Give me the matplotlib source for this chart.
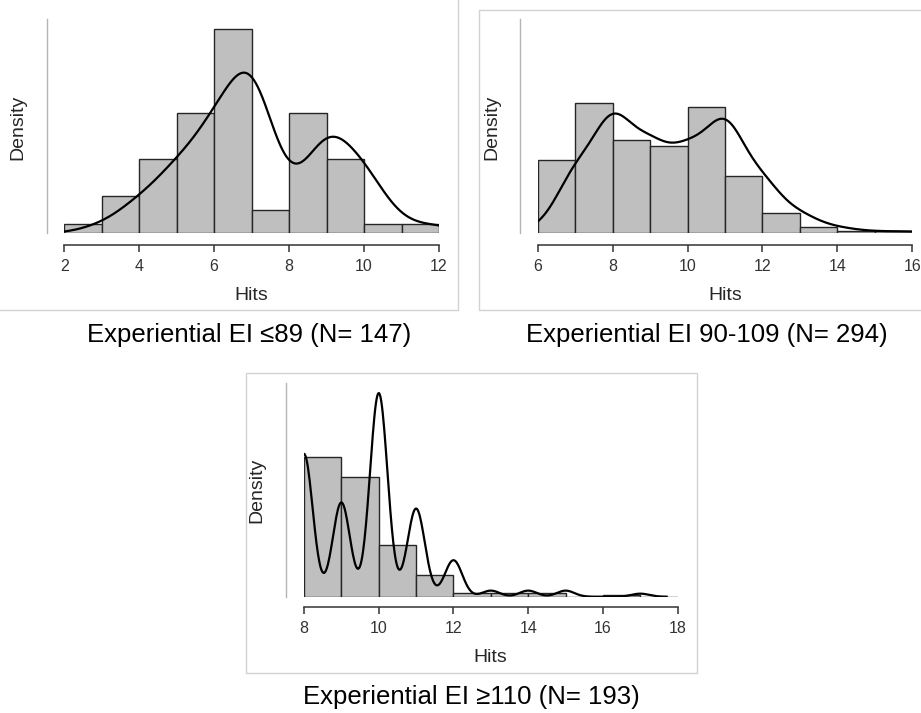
import numpy as np
import pandas as pd
import matplotlib
matplotlib.use("Agg")
import matplotlib.pyplot as plt
from matplotlib.lines import Line2D
from matplotlib.patches import Rectangle

plt.rcParams['font.family'] = ['Liberation Sans', 'DejaVu Sans']

# Hits value counts (N = 147, 294, 193)
hits_low = [3, 4, 5, 6, 7, 8, 9, 10, 11, 12]
counts_low = [2, 8, 16, 26, 44, 5, 26, 16, 2, 2]

hits_mid = [6, 7, 8, 9, 10, 11, 12, 13, 14, 15, 16]
counts_mid = [2, 34, 64, 46, 43, 62, 28, 10, 3, 1, 1]

hits_high = [8, 9, 10, 11, 12, 13, 14, 15, 17]
counts_high = [47, 31, 67, 29, 12, 2, 2, 2, 1]

captions = ["Experiential EI \u226489 (N= 147)",
            "Experiential EI 90-109 (N= 294)",
            "Experiential EI \u2265110 (N= 193)"]

W, H = 921, 713


def fx(px):
    return px / W


def fy(py):
    return 1 - py / H


def nrd0(x):
    # same rule of thumb as R's density() default
    iqr = np.percentile(x, 75) - np.percentile(x, 25)
    lo = min(np.std(x, ddof=1), iqr / 1.34)
    return 0.9 * lo * len(x) ** -0.2


def draw_panel(fig, hits, counts, lo, hi, ymax, box, left_out, bottom_out):
    left, right, top, bottom = box
    ax = fig.add_axes([fx(left), fy(bottom), fx(right - left), (bottom - top) / H])
    values = np.repeat(hits, counts).astype(float)

    # histogram with right-closed bins, like R's hist()
    edges = np.arange(lo, hi + 1)
    binned = pd.cut(values, edges, right=True, include_lowest=True)
    dens = pd.Series(binned).value_counts(sort=False).values / len(values)
    ax.bar(edges[:-1], dens, width=1, align='edge', color='#bfbfbf',
           edgecolor='#262626', linewidth=1.0, zorder=2)

    # density curve
    bw = nrd0(values)
    grid = np.linspace(values.min() - 3 * bw, values.max() + 3 * bw, 512)
    kde = np.exp(-0.5 * ((grid[:, None] - values[None, :]) / bw) ** 2).sum(axis=1)
    kde = kde / (len(values) * bw * np.sqrt(2 * np.pi))
    ax.plot(grid, kde, color='black', linewidth=1.6, zorder=3)

    ax.set_xlim(lo, hi)
    ax.set_ylim(0, ymax)
    ax.set_xticks(np.arange(lo, hi + 1, 2))
    ax.set_yticks([])
    for s in ['top', 'right']:
        ax.spines[s].set_visible(False)
    ax.spines['left'].set_position(('outward', left_out * 0.72))
    ax.spines['left'].set_color('#b5b5b5')
    ax.spines['left'].set_linewidth(1.0)
    ax.spines['bottom'].set_position(('outward', bottom_out * 0.72))
    ax.spines['bottom'].set_color('#333333')
    ax.spines['bottom'].set_linewidth(1.1)
    ax.tick_params(axis='x', direction='out', length=5, width=1.1, color='#333333',
                   labelsize=11.5, labelcolor='#333333', pad=5)
    ax.patch.set_alpha(0)
    return ax


def main():
    fig = plt.figure(figsize=(W / 100, H / 100), dpi=100)

    # panel frames
    frame = '#d2d2d2'
    fig.add_artist(Line2D([0, fx(458), fx(458)], [fy(310), fy(310), 1],
                          transform=fig.transFigure, color=frame, lw=1))
    fig.add_artist(Line2D([1, fx(479), fx(479), 1], [fy(310), fy(310), fy(10), fy(10)],
                          transform=fig.transFigure, color=frame, lw=1))
    fig.add_artist(Rectangle((fx(245.5), fy(673)), fx(451), 300 / H, fill=False,
                             transform=fig.transFigure, edgecolor=frame, lw=1))

    draw_panel(fig, hits_low, counts_low, 2, 12, 0.314, (64.3, 439, 19.3, 233.3), 17.5, 11.7)
    draw_panel(fig, hits_mid, counts_mid, 6, 16, 0.357, (537.7, 912.3, 19.3, 233.3), 17.7, 11.7)
    draw_panel(fig, hits_high, counts_high, 8, 18, 0.619, (304, 677.7, 383.3, 596.7), 18.3, 10)

    # axis titles
    lab = dict(fontsize=14, color='#262626', ha='center', va='center')
    fig.text(fx(251.7), fy(295), 'Hits', **lab)
    fig.text(fx(725), fy(295), 'Hits', **lab)
    fig.text(fx(490.7), fy(657.7), 'Hits', **lab)
    fig.text(fx(18), fy(127), 'Density', rotation=90, **lab)
    fig.text(fx(491.7), fy(127), 'Density', rotation=90, **lab)
    fig.text(fx(256.7), fy(490), 'Density', rotation=90, **lab)

    # captions
    cap = dict(fontsize=18.5, color='black', ha='center', va='center')
    fig.text(fx(249.5), fy(335), captions[0], **cap)
    fig.text(fx(707), fy(335), captions[1], **cap)
    fig.text(fx(471.5), fy(697), captions[2], **cap)

    fig.savefig('out.png', dpi=100)


if __name__ == "__main__":
    main()
